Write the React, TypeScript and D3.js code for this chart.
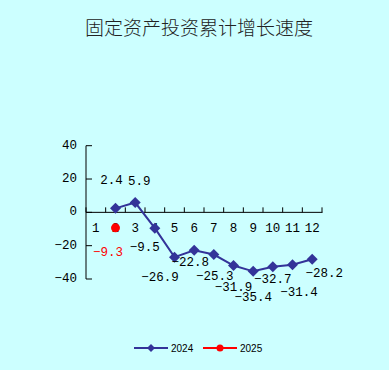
import React from "react";
import * as d3 from "d3";

const months = ["1", "2", "3", "4", "5", "6", "7", "8", "9", "10", "11", "12"];
const values2024: (number | null)[] = [null, 2.4, 5.9, -9.5, -26.9, -22.8, -25.3, -31.9, -35.4, -32.7, -31.4, -28.2];
const values2025: (number | null)[] = [null, -9.3, null, null, null, null, null, null, null, null, null, null];
const yTicks = [40, 20, 0, -20, -40];
const seriesNames = ["2024", "2025"];
const title = "固定资产投资累计增长速度";
// label offsets (styling) for each 2024 point
const labelOffsets2024: [number, number][] = [
  [0, 0], [-4, -27], [4, -21], [-10, 20], [-14.5, 21], [-4, 13], [1, 22], [0, 22], [0, 27], [0, 13.5], [6.5, 28], [12, 15],
];
const labelOffsets2025: [number, number][] = [
  [0, 0], [-7.5, 25.5], [0, 0], [0, 0], [0, 0], [0, 0], [0, 0], [0, 0], [0, 0], [0, 0], [0, 0], [0, 0],
];

const W = 389, H = 370;
const blue = "#333399";
const red = "#ff0000";
const mono = "'Liberation Mono', 'DejaVu Sans Mono', monospace";

function fmt(v: number) {
  return v < 0 ? "\u2212" + Math.abs(v) : String(v);
}

export default function App() {
  const x = d3.scaleBand<string>().domain(months).range([86, 322]);
  const y = d3.scaleLinear().domain([-40, 40]).range([279, 145.7]);
  const cx = (m: string) => (x(m) as number) + x.bandwidth() / 2;

  const pts = months
    .map((m, i) => ({ m, v: values2024[i], i }))
    .filter((d) => d.v !== null) as { m: string; v: number; i: number }[];
  const line = d3
    .line<{ m: string; v: number }>()
    .x((d) => cx(d.m))
    .y((d) => y(d.v));
  const pts25 = months
    .map((m, i) => ({ m, v: values2025[i], i }))
    .filter((d) => d.v !== null) as { m: string; v: number; i: number }[];

  const diamond = (px: number, py: number, r: number) =>
    `M${px},${py - r}L${px + r},${py}L${px},${py + r}L${px - r},${py}Z`;

  const boundaries = d3.range(months.length + 1).map((i) => 86 + i * x.step());

  return (
    <svg width={W} height={H} style={{ position: "absolute", left: 0, top: 0, display: "block" }}>
      <rect x={0} y={0} width={W} height={H} fill="#ccffff" />
      <text x={199} y={26} textAnchor="middle" dominantBaseline="central" fontSize={19}
        fontFamily="'Noto Sans CJK SC', sans-serif" fontWeight={300} fill="#222">{title}</text>

      {/* y axis */}
      <line x1={86} x2={86} y1={y(40)} y2={y(-40)} stroke="#000" strokeWidth={1} />
      {yTicks.map((t) => (
        <g key={t}>
          <line x1={86} x2={92} y1={y(t)} y2={y(t)} stroke="#000" />
          <text x={77} y={y(t)} textAnchor="end" dominantBaseline="central" fontSize={12.5}
            fontFamily={mono} fill="#000">{fmt(t)}</text>
        </g>
      ))}
      {/* x axis */}
      <line x1={86} x2={322.5} y1={y(0)} y2={y(0)} stroke="#000" strokeWidth={1} />
      {boundaries.map((b, i) => (
        <line key={i} x1={b} x2={b} y1={y(0)} y2={y(0) - 5} stroke="#000" />
      ))}
      {months.map((m) => (
        <text key={m} x={cx(m)} y={229} textAnchor="middle" dominantBaseline="central" fontSize={12.5}
          fontFamily={mono} fill="#000">{m}</text>
      ))}

      {/* 2024 series */}
      <path d={line(pts) || ""} fill="none" stroke={blue} strokeWidth={2} />
      {pts.map((d) => (
        <path key={d.m} d={diamond(cx(d.m), y(d.v), 5.5)} fill={blue} />
      ))}
      {pts.map((d) => (
        <text key={"l" + d.m} x={cx(d.m) + labelOffsets2024[d.i][0]} y={y(d.v) + labelOffsets2024[d.i][1]}
          textAnchor="middle" dominantBaseline="central" fontSize={12.5} fontFamily={mono} fill="#000">
          {fmt(d.v)}
        </text>
      ))}

      {/* 2025 series */}
      {pts25.map((d) => (
        <g key={"r" + d.m}>
          <circle cx={cx(d.m)} cy={y(d.v)} r={4.5} fill={red} />
          <text x={cx(d.m) + labelOffsets2025[d.i][0]} y={y(d.v) + labelOffsets2025[d.i][1]}
            textAnchor="middle" dominantBaseline="central" fontSize={12.5} fontFamily={mono} fill={red}>
            {fmt(d.v)}
          </text>
        </g>
      ))}

      {/* legend */}
      <g>
        <line x1={134} x2={168} y1={348} y2={348} stroke={blue} strokeWidth={2} />
        <path d={diamond(151, 348, 4)} fill={blue} />
        <text x={171} y={348} dominantBaseline="central" fontSize={10} fontFamily="Arial, 'Liberation Sans', sans-serif" fill="#000">{seriesNames[0]}</text>
        <line x1={203} x2={237} y1={348} y2={348} stroke={red} strokeWidth={2} />
        <circle cx={220} cy={348} r={3.5} fill={red} />
        <text x={240} y={348} dominantBaseline="central" fontSize={10} fontFamily="Arial, 'Liberation Sans', sans-serif" fill="#000">{seriesNames[1]}</text>
      </g>
    </svg>
  );
}
